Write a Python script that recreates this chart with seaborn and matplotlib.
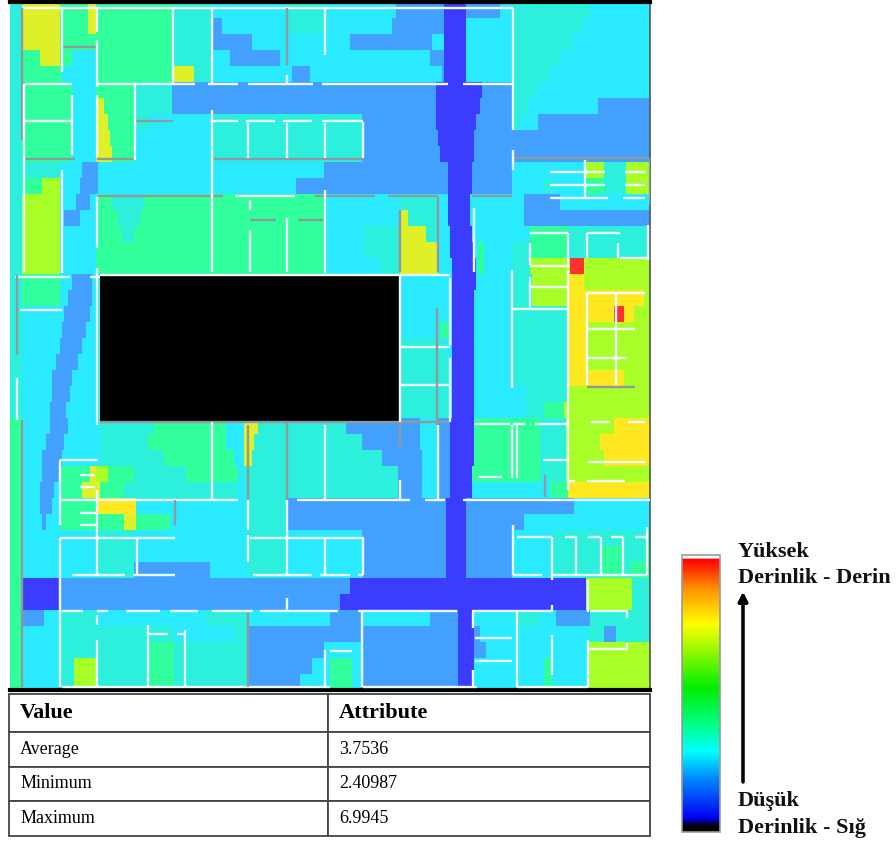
#!/usr/bin/env python
# -*- coding: utf-8 -*-
"""Depth map of a floor plan with value table and depth legend."""

import numpy as np
import pandas as pd
import seaborn as sns
import matplotlib.pyplot as plt
from matplotlib.cm import ScalarMappable
from matplotlib.colors import LinearSegmentedColormap, Normalize
from matplotlib.patches import Rectangle

# ================= DATA =================
DEPTH_CODES = ['K', 'B', 'b', 'c', 't', 'g', 'y', 'Y', 'Z', 'R']
DEPTH_VALUES = [2.0, 2.41, 2.9, 3.4, 3.75, 4.2, 5.1, 5.5, 5.9, 6.99]
DEPTH_COLORS = ['#000000', '#3c3cff', '#44a0ff', '#2aeaff', '#2cf0dc',
                '#30ff9c', '#a8ff28', '#e0f028', '#ffe820', '#ff3030']

# one line per 16 px band of the plan: depth letter + plan x where that run ends
DEPTH_RUNS = [
    "t22 Y60 g88 Y97 g173 t212 c287 t325 c397 b445 B467 b500 c513 t590 c650",
    "t22 Y60 g88 Y97 g173 t212 b223 c287 t325 c392 b445 B467 c513 t583 c650",
    "t22 Y60 g173 t212 b252 c351 b432 c445 B467 c513 t572 c650",
    "t22 g40 Y60 g72 c97 g173 t212 c231 b281 c430 b445 B467 c513 t561 c650",
    "t22 g62 c97 g173 Y195 t212 c293 b310 c443 b445 B467 c513 t550 c650",
    "t22 g72 c97 g135 t173 b436 B482 b513 t537 c650",
    "t22 g72 c97 Y104 g135 t173 b436 B480 b513 t528 c598 b650",
    "t22 g72 c97 Y108 g135 t150 c212 t363 b436 B477 b513 t520 c538 b650",
    "t22 g72 c97 Y110 g135 c212 t363 b438 B475 b650",
    "t22 g72 c97 Y113 g135 c212 t363 b440 B475 b650",
    "t60 c82 b98 c325 b448 B472 b513 c585 y605 t627 y650",
    "t22 g43 y60 c80 b98 c297 b449 B472 b513 c545 t552 c585 g605 t627 y650",
    "t22 y60 c76 b90 c97 g112 t145 g325 c400 t438 c448 B470 c525 b560 c650",
    "t22 y60 c65 b80 c97 g118 t140 g325 c400 Y408 t438 c449 B471 c525 b650",
    "t22 y60 c97 g122 t135 g325 c365 t400 Y426 t438 c450 B472 c530 g568 t648 c650",
    "t22 y60 c97 g325 c365 t400 Y438 c451 B474 c478 g485 c513 t530 g568 t650",
    "t22 y60 c97 g325 c380 t400 Y438 c452 B476 c478 g485 c513 t530 y570 R585 y650",
    "t22 g60 c73 b93 c100 K400 c452 B477 c513 t532 y568 Z585 y650",
    "t22 g60 c68 b92 c100 K400 c452 B475 c513 t532 y568 Z645 y650",
    "t22 c65 b90 c100 K400 c452 B475 c512 t568 Z615 R625 Z635 y650",
    "t22 c63 b87 c100 K400 c440 g450 c452 B474 c512 t568 Z587 y650",
    "t22 c60 b82 c100 K400 t447 c452 B474 c512 t568 Z587 y650",
    "t22 c57 b78 c100 K400 t452 B474 c512 t568 Z587 y650",
    "t22 c53 b73 c100 K400 t452 B474 c512 t568 Z625 y650",
    "t22 c52 b70 c100 K400 t452 B474 c526 t568 y650",
    "t22 c50 b67 c100 K400 t452 B474 c527 t545 g565 y650",
    "g22 c50 b68 c100 t155 g227 c245 Y258 t347 b420 c438 b451 B474 g540 t566 y615 Z650",
    "g22 c47 b65 c100 t148 g227 c245 Y255 t363 b420 c438 b451 B474 g540 t566 y600 Z650",
    "g22 c43 b63 c100 t165 g235 c245 Y253 t383 b422 c438 b451 B474 g540 t566 y605 Z650",
    "g22 c42 b60 g90 Y97 y108 g135 t186 g238 c245 t398 b423 c438 b451 B473 g540 t566 y650",
    "g22 c40 b55 c60 g83 Y100 g125 t238 c245 t398 b423 c438 b451 B473 c550 g568 Z650",
    "g22 c40 b52 c60 g97 Z137 c248 t287 b447 B467 b575 c650",
    "g22 c42 b47 c60 g125 Y137 g170 c248 t287 b447 B467 b525 c650",
    "g22 c97 t135 c248 t287 c363 b447 B467 b513 c552 t650",
    "g22 c97 t135 c248 t287 c363 b447 B467 b513 c552 t602 g622 t645 g650",
    "g22 c97 t135 b210 c248 t287 c363 b447 B467 b513 c552 t602 g622 t630 g650",
    "g22 B60 b350 B586 y632 t650",
    "g22 B60 b340 B586 y632 t650",
    "g22 b45 c60 t97 c207 t248 c330 b362 c430 b458 B474 c520 t540 c556 b590 t650",
    "g22 c60 t175 c235 t248 b458 B474 b480 c588 t605 b616 t650",
    "g22 c60 t150 g175 t248 b325 c362 b458 B474 b487 c588 y650",
    "g22 c60 t74 y97 t148 g175 t248 b313 c330 g352 c362 b458 B474 c545 g552 c588 y650",
    "g22 c60 t74 y97 t148 g175 t248 b300 c330 g352 c362 b458 B474 c545 g552 c588 y650",
]

# walls in plan pixels: (y, x0, x1) and (x, y0, y1)
WALLS_H = [
    (8, 22, 513), (84, 25, 72), (84, 98, 195), (84, 208, 238), (84, 248, 313),
    (84, 322, 448), (84, 463, 513), (121, 25, 72), (121, 212, 238),
    (121, 246, 275), (121, 283, 312), (121, 322, 363), (196, 235, 295),
    (172, 550, 605), (172, 625, 645), (185, 550, 605), (185, 625, 645),
    (198, 550, 608), (198, 623, 645), (233, 530, 568), (233, 587, 620),
    (266, 530, 568), (258, 620, 648), (277, 15, 70), (277, 90, 100),
    (310, 20, 62), (275, 100, 450), (347, 400, 450), (385, 400, 450),
    (309, 513, 567), (287, 530, 568), (293, 587, 645), (329, 587, 635),
    (358, 587, 627), (424, 475, 510), (424, 513, 525), (424, 535, 567),
    (422, 590, 610), (422, 628, 645), (462, 588, 645), (460, 543, 567),
    (477, 478, 502), (481, 568, 575), (481, 587, 625), (500, 60, 238),
    (500, 297, 410), (500, 425, 445), (500, 463, 650), (538, 60, 175),
    (538, 250, 363), (537, 517, 552), (537, 565, 577), (537, 588, 600),
    (537, 611, 623), (537, 635, 647), (575, 72, 125), (575, 133, 175),
    (575, 253, 312), (575, 320, 350), (575, 358, 363), (575, 513, 542),
    (575, 552, 647), (611, 62, 83), (611, 97, 108), (611, 126, 160),
    (611, 170, 198), (611, 212, 253), (611, 260, 338), (611, 358, 457),
    (611, 472, 552), (634, 148, 168), (634, 177, 185), (638, 475, 512),
    (661, 475, 512), (651, 330, 352), (611, 590, 628), (649, 588, 627),
    (687, 62, 330), (687, 363, 477), (687, 517, 588), (460, 60, 98),
    (475, 80, 95), (487, 80, 95), (513, 80, 97), (525, 80, 97),
]
WALLS_V = [
    (62, 8, 72), (24, 84, 272), (62, 170, 273), (72, 95, 155), (97, 8, 32),
    (97, 40, 87), (97, 95, 157), (97, 197, 248), (97, 268, 425), (135, 85, 160),
    (173, 8, 85), (212, 8, 85), (212, 110, 272), (248, 123, 158),
    (287, 75, 84), (287, 123, 158), (325, 8, 55), (325, 123, 158),
    (250, 200, 210), (250, 230, 272), (287, 218, 272), (325, 190, 273),
    (513, 8, 130), (513, 150, 170), (474, 208, 272), (363, 122, 158),
    (585, 160, 197), (648, 225, 260), (530, 243, 265), (568, 233, 268),
    (587, 233, 258), (618, 243, 258), (530, 277, 308), (568, 270, 490),
    (587, 293, 385), (616, 293, 385), (512, 270, 388), (400, 275, 422),
    (450, 278, 345), (450, 358, 422), (17, 378, 420), (212, 422, 500),
    (325, 425, 500), (400, 480, 500), (438, 425, 500), (512, 425, 478),
    (517, 425, 478), (60, 460, 525), (60, 538, 687), (97, 490, 575),
    (97, 615, 625), (97, 640, 688), (137, 538, 575), (148, 625, 687),
    (185, 630, 687), (248, 500, 530), (248, 535, 562), (287, 500, 575),
    (287, 598, 611), (325, 538, 575), (325, 650, 687), (363, 537, 575),
    (362, 611, 687), (473, 611, 628), (473, 670, 687), (513, 525, 575),
    (552, 537, 580), (552, 605, 612), (552, 635, 675), (517, 611, 687),
    (588, 580, 612), (588, 640, 687), (627, 612, 618), (627, 643, 650),
    (576, 537, 575), (601, 537, 575), (623, 537, 575), (647, 527, 575),
]
GREY_H = [
    (47, 62, 98), (159, 24, 75), (159, 97, 135), (121, 136, 173), (159, 212, 363),
    (196, 98, 223), (196, 315, 375), (196, 388, 438), (196, 472, 512),
    (158, 513, 648), (220, 250, 276), (220, 298, 325), (387, 587, 635),
    (422, 100, 450),
]
GREY_V = [
    (22, 8, 140), (287, 8, 65), (400, 210, 272), (438, 197, 272), (650, 158, 205),
    (437, 308, 425), (248, 425, 500), (287, 422, 500), (400, 422, 447),
    (22, 420, 687), (175, 500, 525), (248, 612, 687), (17, 275, 355),
    (545, 475, 497),
]
VOID_BOX = (100, 275, 399, 421)  # x0, y0, x1, y1 of the unreachable block

TABLE_COLUMNS = ['Value', 'Attribute']
TABLE_NAMES = ['Average', 'Minimum', 'Maximum']
TABLE_VALUES = ['3.7536', '2.40987', '6.9945']

LEGEND_STOPS = [0.0, 0.02, 0.05, 0.2, 0.29, 0.38, 0.52, 0.75, 0.88, 0.985, 0.99, 1.0]
LEGEND_COLORS = ['#000000', '#000000', '#0000f0', '#0090ff', '#00ffff', '#00ff90',
                 '#00ee00', '#ffff00', '#ff9000', '#ff0000', '#ffffff', '#ffffff']
# ========================================

W, H = 896, 843
CELL_X, CELL_Y = 2, 16
MAP_X0, MAP_Y0, MAP_X1, MAP_Y1 = 10, 2, 650, 690


def px_axes(fig, x0, y0, x1, y1):
    return fig.add_axes([x0 / W, 1 - y1 / H, (x1 - x0) / W, (y1 - y0) / H])


def gx(x):
    return (np.asarray(x, dtype=float) - MAP_X0) / CELL_X


def gy(y):
    return (np.asarray(y, dtype=float) - MAP_Y0) / CELL_Y


sns.set_theme(style='white')
plt.rcParams['font.family'] = ['Liberation Serif', 'DejaVu Serif']

# Decode runs to depth values
lookup = dict(zip(DEPTH_CODES, DEPTH_VALUES))
rows = []
for line in DEPTH_RUNS:
    row = []
    for run in line.split():
        end_cell = (int(run[1:]) - MAP_X0) // CELL_X
        row += [lookup[run[0]]] * (end_cell - len(row))
    rows.append(row)
depth = pd.DataFrame(rows)

vmin, vmax = DEPTH_VALUES[0], DEPTH_VALUES[-1]
stops = [(v - vmin) / (vmax - vmin) for v in DEPTH_VALUES]
map_cmap = LinearSegmentedColormap.from_list('depth', list(zip(stops, DEPTH_COLORS)), N=2048)

fig = plt.figure(figsize=(W / 100, H / 100), dpi=100)

# Map
ax = px_axes(fig, MAP_X0, MAP_Y0, MAP_X1, MAP_Y1)
sns.heatmap(depth, ax=ax, cmap=map_cmap, vmin=vmin, vmax=vmax, cbar=False,
            xticklabels=False, yticklabels=False)
x0, y0, x1, y1 = VOID_BOX
ax.add_patch(Rectangle((gx(x0), gy(y0)), gx(x1) - gx(x0), gy(y1) - gy(y0),
                       facecolor='black', edgecolor='none', zorder=2))
for walls, color in [(GREY_H, '#8f9a9c'), (WALLS_H, '#eefcff')]:
    w = np.array(walls)
    ax.hlines(gy(w[:, 0]), gx(w[:, 1]), gx(w[:, 2]), colors=color, lw=1.7, zorder=3)
for walls, color in [(GREY_V, '#8f9a9c'), (WALLS_V, '#eefcff')]:
    w = np.array(walls)
    ax.vlines(gx(w[:, 0]), gy(w[:, 1]), gy(w[:, 2]), colors=color, lw=1.7, zorder=3)
ax.set_xlim(0, gx(MAP_X1))
ax.set_ylim(gy(MAP_Y1), 0)
for side in ['top', 'bottom']:
    ax.spines[side].set_visible(True)
    ax.spines[side].set_color('black')
    ax.spines[side].set_linewidth(3)
ax.spines['right'].set_visible(True)
ax.spines['right'].set_color('#555555')
ax.spines['right'].set_linewidth(1.2)

# Value table
tax = px_axes(fig, 9, 694, 650, 836)
tax.axis('off')
cell_text = [TABLE_COLUMNS] + [[n, v] for n, v in zip(TABLE_NAMES, TABLE_VALUES)]
table = tax.table(cellText=cell_text, colWidths=[319 / 641, 322 / 641],
                  cellLoc='left', loc='center', bbox=[0, 0, 1, 1])
table.auto_set_font_size(False)
heights = [38 / 142, 35 / 142, 34 / 142, 35 / 142]
for (r, c), cell in table.get_celld().items():
    cell.set_height(heights[r])
    cell.set_edgecolor('#444444')
    cell.set_linewidth(1.3)
    cell.PAD = 0.035
    cell.get_text().set_color('black')
    cell.get_text().set_fontsize(16 if r == 0 else 13)
    if r == 0:
        cell.get_text().set_fontweight('bold')

# Depth legend
cax = px_axes(fig, 682, 555, 720, 832)
legend_cmap = LinearSegmentedColormap.from_list('legend', list(zip(LEGEND_STOPS, LEGEND_COLORS)), N=512)
cbar = fig.colorbar(ScalarMappable(norm=Normalize(0, 1), cmap=legend_cmap), cax=cax)
cbar.set_ticks([])
cbar.outline.set_edgecolor('#999999')
cbar.outline.set_linewidth(1.2)

for text, y in [('Yüksek', 552), ('Derinlik - Derin', 578), ('Düşük', 801), ('Derinlik - Sığ', 828)]:
    fig.text(738 / W, 1 - y / H, text, fontsize=16, fontweight='bold', color='#111111',
             ha='left', va='center')
fig.add_artist(plt.annotate('', xy=(743 / W, 1 - 592 / H), xytext=(743 / W, 1 - 782 / H),
                            xycoords='figure fraction', textcoords='figure fraction',
                            arrowprops=dict(arrowstyle='-|>', color='black', lw=2.2, mutation_scale=14,
                                            shrinkA=0, shrinkB=0)))

plt.savefig('out.png', dpi=100)
